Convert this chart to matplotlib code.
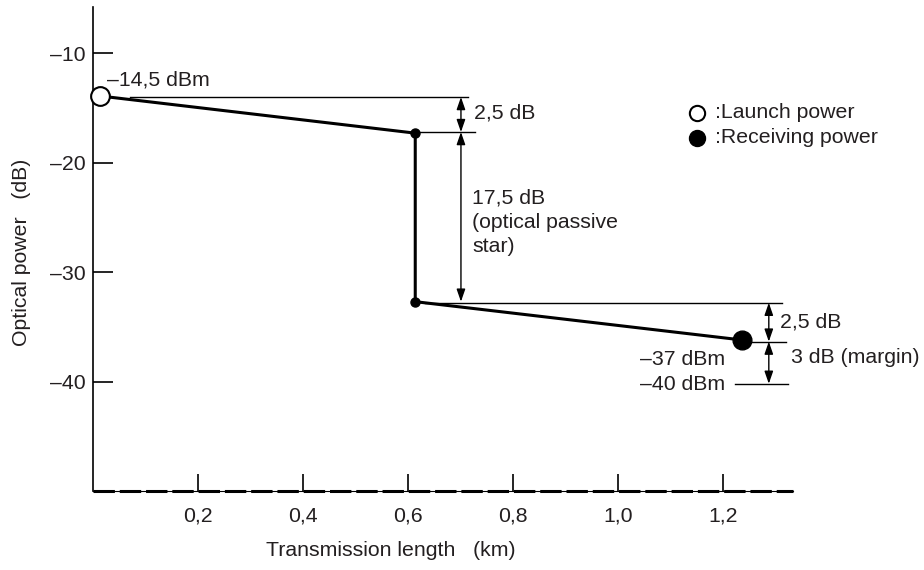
import matplotlib
matplotlib.use("Agg")
import matplotlib.pyplot as plt

plt.rcParams['font.family'] = ['Liberation Sans', 'DejaVu Sans']

# ---- data ----
distance_km = [0.013, 0.614, 0.614, 1.236]
power_db = [-13.9, -17.3, -32.7, -36.2]

x_ticks = [0.2, 0.4, 0.6, 0.8, 1.0, 1.2]
x_tick_labels = ["0,2", "0,4", "0,6", "0,8", "1,0", "1,2"]
y_ticks = [-10, -20, -30, -40]
y_tick_labels = ["\u201310", "\u201320", "\u201330", "\u201340"]

# reference (level) lines: y level, x start, x end
ref_levels = [-14.0, -17.2, -32.8, -36.35, -40.2]
ref_x_start = [0.071, 0.614, 0.633, 1.250, 1.222]
ref_x_end = [0.715, 0.728, 1.313, 1.320, 1.323]

# dimension arrows: x, y from, y to
arrow_x = [0.701, 0.701, 1.287, 1.287]
arrow_y0 = [-14.0, -17.2, -32.8, -36.35]
arrow_y1 = [-17.2, -32.7, -36.35, -40.2]

TXT = '#231f20'
FS = 15.3

fig = plt.figure(figsize=(9.24, 5.70), dpi=100)
ax = fig.add_axes([0.1003, 0.1386, 0.7579, 0.8486])
ax.set_xlim(0, 1.333)
ax.set_ylim(-50, -5.8)

for s in ['top', 'right']:
    ax.spines[s].set_visible(False)
ax.spines['left'].set_linewidth(1.2)
ax.spines['bottom'].set_linewidth(0.8)
ax.axhline(-50, color='black', lw=2.2, ls=(0, (7, 1.6)), clip_on=False, zorder=3)

ax.set_xticks(x_ticks)
ax.set_xticklabels(x_tick_labels)
ax.set_yticks(y_ticks)
ax.set_yticklabels(y_tick_labels)
ax.tick_params(axis='y', direction='in', length=14.4, width=1.2, pad=5,
               labelsize=FS, labelcolor=TXT)
ax.tick_params(axis='x', direction='in', length=12.5, width=1.2, pad=11,
               labelsize=FS, labelcolor=TXT)

# main power budget line
ax.plot(distance_km, power_db, color='black', lw=2.2, zorder=4, solid_capstyle='round')
ax.plot([distance_km[1], distance_km[2]], [power_db[1], power_db[2]], 'o',
        color='black', ms=6.5, zorder=5)
ax.plot([distance_km[0]], [power_db[0]], 'o', mfc='white', mec='black',
        mew=1.5, ms=13.5, zorder=6, clip_on=False)
ax.plot([distance_km[3]], [power_db[3]], 'o', color='black', ms=13.5, zorder=6)

# reference lines
for yv, xs, xe in zip(ref_levels, ref_x_start, ref_x_end):
    ax.plot([xs, xe], [yv, yv], color='black', lw=1.0, zorder=3, clip_on=False)

# dimension arrows
for xa, ya, yb in zip(arrow_x, arrow_y0, arrow_y1):
    ax.annotate('', xy=(xa, yb), xytext=(xa, ya),
                arrowprops=dict(arrowstyle='<|-|>,head_length=0.75,head_width=0.26',
                                color='black', lw=1.0, shrinkA=0, shrinkB=0),
                annotation_clip=False)

# texts
ax.text(0.028, -12.4, "\u201314,5 dBm", fontsize=FS, color=TXT, va='center', ha='left')
ax.text(0.726, -15.47, "2,5 dB", fontsize=FS, color=TXT, va='center', ha='left')
ax.text(0.722, -22.35, "17,5 dB\n(optical passive\nstar)", fontsize=FS, color=TXT,
        va='top', ha='left', linespacing=1.35)
ax.text(1.308, -34.57, "2,5 dB", fontsize=FS, color=TXT, va='center', ha='left')
ax.text(1.329, -37.8, "3 dB (margin)", fontsize=FS, color=TXT, va='center', ha='left')
ax.text(1.203, -37.97, "\u201337 dBm", fontsize=FS, color=TXT, va='center', ha='right')
ax.text(1.203, -40.3, "\u201340 dBm", fontsize=FS, color=TXT, va='center', ha='right')

# legend
ax.plot([1.150], [-15.42], 'o', mfc='white', mec='black', mew=1.5, ms=11)
ax.plot([1.150], [-17.70], 'o', color='black', ms=11.5)
ax.text(1.184, -15.42, ":Launch power", fontsize=FS, color=TXT, va='center', ha='left')
ax.text(1.184, -17.70, ":Receiving power", fontsize=FS, color=TXT, va='center', ha='left')

# axis labels
fig.text(391 / 924, 1 - 551 / 570, "Transmission length   (km)", fontsize=FS,
         color=TXT, ha='center', va='center')
fig.text(22 / 924, 1 - 252 / 570, "Optical power   (dB)", fontsize=FS,
         color=TXT, ha='center', va='center', rotation=90)

fig.savefig("out.png", dpi=100)
